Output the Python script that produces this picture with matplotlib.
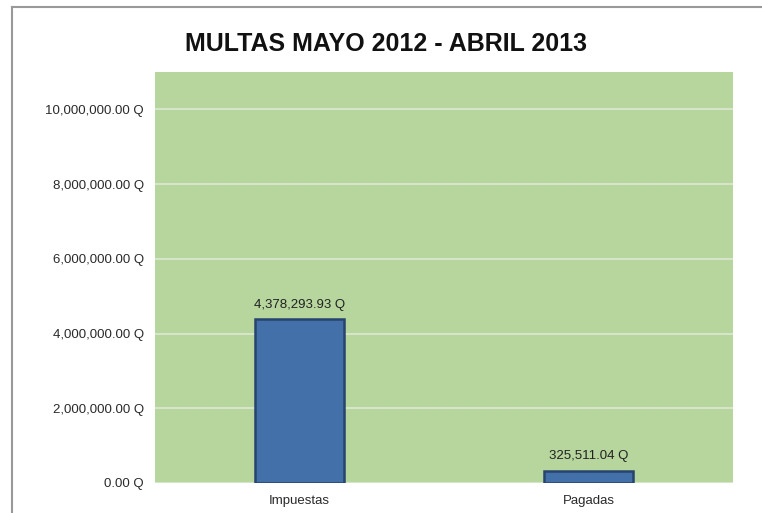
import matplotlib.pyplot as plt
from matplotlib.lines import Line2D

# datos
categorias = ['Impuestas', 'Pagadas']
montos = [4378293.93, 325511.04]
etiquetas = ['4,378,293.93 Q', '325,511.04 Q']
ticks_y = [0, 2000000, 4000000, 6000000, 8000000, 10000000]

plt.rcParams['font.family'] = ['Liberation Sans', 'DejaVu Sans']

fig = plt.figure(figsize=(7.62, 5.13), dpi=100)
ax = fig.add_axes([0.2034, 0.0585, 0.7585, 0.801])
ax.set_facecolor('#b6d69d')

x = range(len(categorias))
ax.bar(x, montos, width=0.31, color='#4470a9', edgecolor='#27436e', linewidth=1.8, zorder=3)
for i, v in enumerate(montos):
    ax.text(i, v + 230000, etiquetas[i], ha='center', va='bottom', fontsize=9.5, color='#222222', zorder=4)

ax.set_xlim(-0.5, 1.5)
ax.set_ylim(0, 11000000)
ax.set_yticks(ticks_y)
ax.set_yticklabels(['{:,.2f} Q'.format(t) for t in ticks_y], fontsize=9.5, color='#2a2a2a')
ax.set_xticks(list(x))
ax.set_xticklabels(categorias, fontsize=9.5, color='#2a2a2a')
ax.tick_params(axis='y', length=0, pad=8)
ax.tick_params(axis='x', length=0, pad=9)
ax.yaxis.grid(True, color='#dde9d3', linewidth=1.2, zorder=0)
for s in ax.spines.values():
    s.set_visible(False)

fig.text(0.507, 0.915, 'MULTAS MAYO 2012 - ABRIL 2013', ha='center', va='center',
         fontsize=18, fontweight='bold', color='#111111')

# marco
fig.add_artist(Line2D([12 / 762, 12 / 762], [0, 1 - 7 / 513], color='#999999', linewidth=1.5))
fig.add_artist(Line2D([12 / 762, 1], [1 - 7 / 513, 1 - 7 / 513], color='#999999', linewidth=1.5))

fig.savefig('out.png', dpi=100)
